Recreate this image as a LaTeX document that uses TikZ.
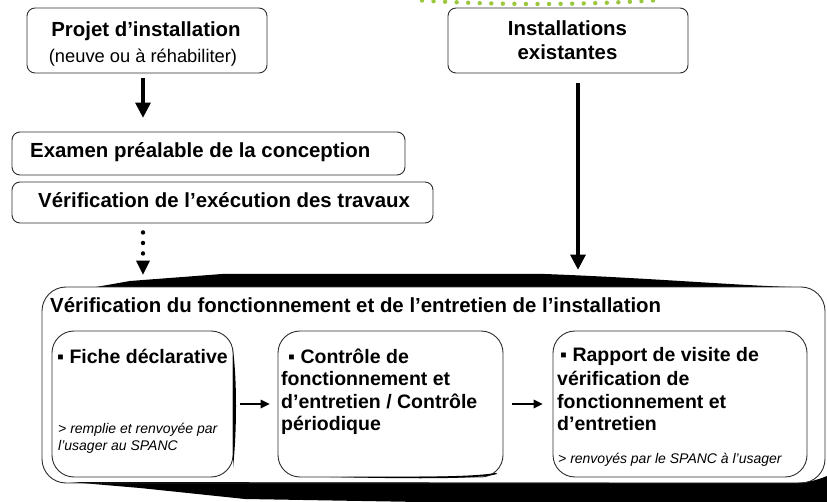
\documentclass[tikz,border=0pt]{standalone}
\usepackage{fontspec}
\setmainfont{Liberation Sans}
\usetikzlibrary{arrows.meta,calc}
\definecolor{dotgreen}{RGB}{155,200,58}
\definecolor{edge}{RGB}{45,45,45}
\tikzset{
  frame/.style={draw=edge, line width=0.9pt, rounded corners=8pt, inner sep=0pt},
  stagebox/.style={draw=edge, line width=0.9pt, rounded corners=22pt, inner sep=0pt, minimum height=146pt},
  hd/.style={font=\fontsize{20.4}{24}\selectfont\bfseries, inner sep=0pt},
  sub/.style={font=\fontsize{18.3}{22}\selectfont, inner sep=0pt},
  inner/.style={font=\fontsize{19.5}{23}\selectfont\bfseries, inner sep=0pt, anchor=base west},
  note/.style={font=\fontsize{14}{17}\selectfont\itshape, inner sep=0pt, anchor=base west},
  bigarrow/.style={line width=4.6pt, -{Triangle[width=16pt,length=15pt,line width=0pt]}},
  smallarrow/.style={line width=2.8pt, -{Triangle[width=9pt,length=9pt,line width=0pt]}},
}
\begin{document}
\begin{tikzpicture}[x=1pt,y=-1pt]
\useasboundingbox (0,0) rectangle (827,502);

% green dotted arc at the top
\foreach \i in {0,...,20}{
  \pgfmathsetmacro\xx{422+11.55*\i}
  \pgfmathsetmacro\yy{4-3.5*((\xx-537.5)/115.5)^2}
  \fill[dotgreen] (\xx,\yy) circle (2.2pt);
}

% upper boxes
\node[frame, minimum width=240pt, minimum height=65pt] (proj) at (147,40.5) {};
\node[hd, anchor=base] (projT) at (146,37) {Projet d’installation};
\node[sub, anchor=base] (projS) at (143,63) {(neuve ou à réhabiliter)};

\node[frame, minimum width=240pt, minimum height=65pt] (inst) at (568,40.5) {};
\node[hd, anchor=base] (instA) at (567.5,36) {Installations};
\node[hd, anchor=base] (instB) at (567.5,60) {existantes};

\node[frame, minimum width=393pt, minimum height=43pt] (exam) at (208.5,153.5) {};
\node[hd, anchor=base west] (examT) at (30,158) {Examen préalable de la conception};

\node[frame, minimum width=421pt, minimum height=41pt] (exec) at (222.5,202.5) {};
\node[hd, anchor=base west] (execT) at (38,208) {Vérification de l’exécution des travaux};

% black perspective bands around the large frame
\fill[black] (96,287) -- (130,281) -- (222,274) -- (545,274)
  .. controls (650,278) and (730,285) .. (792,287) -- cycle;
\fill[black] (70,482) -- (140,488) -- (245,499) -- (420,502) -- (827,502)
  -- (827,476) .. controls (815,481) and (805,483) .. (790,483) -- cycle;

% large frame
\node[draw=edge, line width=0.9pt, rounded corners=24pt, inner sep=0pt,
      minimum width=783pt, minimum height=196pt] (verif) at (433.5,385) {};
\node[hd, anchor=base west] (verifT) at (50,313)
  {Vérification du fonctionnement et de l’entretien de l’installation};

% three stages
\node[stagebox, minimum width=181pt] (fiche) at (142.5,404) {};
\node[stagebox, minimum width=225pt] (ctrl) at (390.5,404) {};
\node[stagebox, minimum width=254pt] (rapp) at (680,404) {};

% heavier strokes on some stage edges
\fill[black] (233,350) .. controls (237,380) and (237,430) .. (233,468) -- cycle;
\fill[black] (330,477) .. controls (420,479) and (480,479) .. (497,474)
  -- (496,473) .. controls (470,477) and (420,477) .. (330,477) -- cycle;

\node[inner] (ficheA) at (57,363) {▪ Fiche déclarative};
\node[note] (ficheB) at (58,433) {> remplie et renvoyée par};
\node[note] (ficheC) at (58,450) {l’usager au SPANC};

\node[inner] (ctrlA) at (288,363) {▪ Contrôle de};
\node[inner] (ctrlB) at (281,385.5) {fonctionnement et};
\node[inner] (ctrlC) at (281,408) {d’entretien / Contrôle};
\node[inner] (ctrlD) at (281,430.5) {périodique};

\node[inner] (rappA) at (560,362) {▪ Rapport de visite de};
\node[inner] (rappB) at (557,385) {vérification de};
\node[inner] (rappC) at (557,408) {fonctionnement et};
\node[inner] (rappD) at (557,430) {d’entretien};
\node[note] (rappE) at (558,463) {> renvoyés par le SPANC à l’usager};

% connectors
\draw[bigarrow] ([xshift=-4pt,yshift=-5pt]proj.south) -- ([xshift=-65.5pt,yshift=14pt]exam.north);
\coordinate (a2s) at ([xshift=10pt,yshift=-10pt]inst.south);
\draw[bigarrow, shorten >=17pt] (a2s) -- (verif.north -| a2s);
\coordinate (d1s) at ([xshift=-79.5pt,yshift=-9pt]exec.south);
\draw[line width=4.4pt, line cap=round, dash pattern=on 0pt off 10.5pt,
      -{Triangle[width=14pt,length=14pt,line width=0pt]}, shorten >=12pt]
  (d1s) -- (verif.north -| d1s);
\draw[smallarrow, shorten <=7pt, shorten >=8pt] (fiche.east) -- (ctrl.west);
\draw[smallarrow, shorten <=9pt, shorten >=10pt] (ctrl.east) -- (rapp.west);
\end{tikzpicture}
\end{document}
